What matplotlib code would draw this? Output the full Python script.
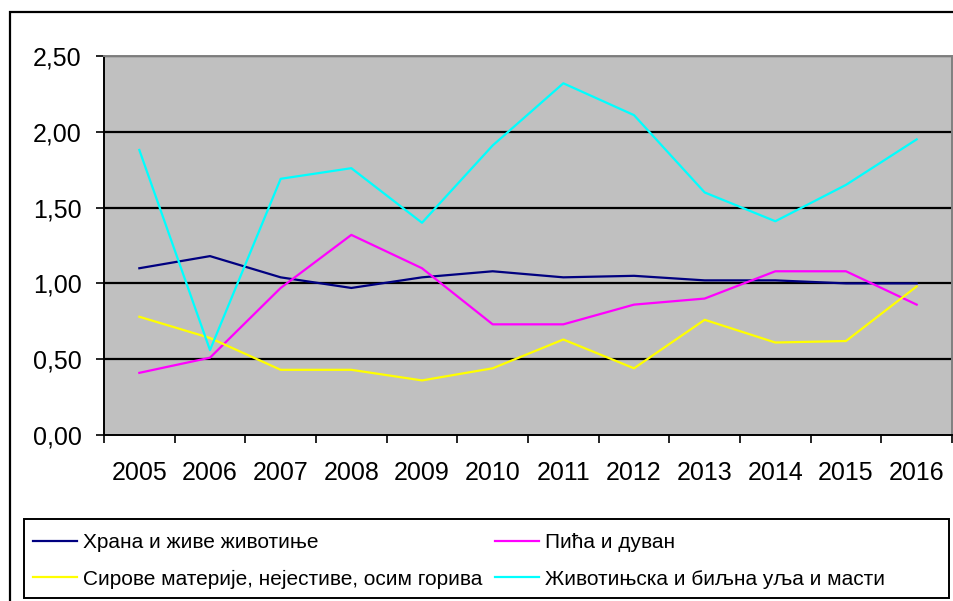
import matplotlib
matplotlib.use("Agg")
import matplotlib.pyplot as plt
from matplotlib.patches import Rectangle

years = ["2005", "2006", "2007", "2008", "2009", "2010", "2011", "2012", "2013", "2014", "2015", "2016"]
food = [1.10, 1.18, 1.04, 0.97, 1.04, 1.08, 1.04, 1.05, 1.02, 1.02, 1.00, 1.00]
drinks = [0.41, 0.51, 0.97, 1.32, 1.10, 0.73, 0.73, 0.86, 0.90, 1.08, 1.08, 0.86]
raw = [0.78, 0.64, 0.43, 0.43, 0.36, 0.44, 0.63, 0.44, 0.76, 0.61, 0.62, 0.98]
oils = [1.88, 0.56, 1.69, 1.76, 1.40, 1.91, 2.32, 2.11, 1.60, 1.41, 1.65, 1.95]
series_names = ["Храна и живе животиње", "Пића и дуван",
                "Сирове материје, нејестиве, осим горива", "Животињска и биљна уља и масти"]
series_vals = [food, drinks, raw, oils]
colors = ["#000080", "#FF00FF", "#FFFF00", "#00FFFF"]
yticks = [0.0, 0.5, 1.0, 1.5, 2.0, 2.5]

plt.rcParams['font.family'] = ['Liberation Sans', 'DejaVu Sans']

W, H = 954, 601
fig = plt.figure(figsize=(W / 100, H / 100), dpi=100)
L, R, T, B = 104, 952, 56, 435
ax = fig.add_axes([L / W, 1 - B / H, (R - L) / W, (B - T) / H])
ax.set_facecolor("#C0C0C0")

x = list(range(len(years)))
for ln in yticks[1:]:
    ax.axhline(ln, color="black", lw=1.6, zorder=1)
handles = []
for name, vals, c in zip(series_names, series_vals, colors):
    h, = ax.plot(x, vals, color=c, lw=1.6, zorder=3, label=name)
    handles.append(h)

ax.set_xlim(-0.5, len(years) - 0.5)
ax.set_ylim(0, 2.5)
ax.set_yticks(yticks)
ax.set_yticklabels([f"{v:.2f}".replace(".", ",") for v in yticks], fontsize=18)
ax.tick_params(axis='y', direction='out', length=6, width=1.2, pad=10, colors='black')
ax.set_xticks(x)
ax.set_xticklabels(years, fontsize=18)
ax.set_xticks([i - 0.5 for i in range(len(years) + 1)], minor=True)
ax.tick_params(axis='x', which='major', length=0, pad=19)
ax.tick_params(axis='x', which='minor', direction='out', length=5.5, width=1.2)

for s in ['left', 'bottom']:
    ax.spines[s].set_color('black')
    ax.spines[s].set_linewidth(1.4)
for s in ['top', 'right']:
    ax.spines[s].set_color('#808080')
    ax.spines[s].set_linewidth(1.4)

# outer border
fig.patches.append(Rectangle((10 / W, -0.1), 1.2, 1 - 12 / H + 0.1, transform=fig.transFigure,
                             fill=False, edgecolor='black', lw=1.6))
# legend frame
lx0, lx1, ly0, ly1 = 24, 949, 519, 598
fig.patches.append(Rectangle((lx0 / W, 1 - ly1 / H), (lx1 - lx0) / W, (ly1 - ly0) / H,
                             transform=fig.transFigure, fill=False, edgecolor='black', lw=1.4))

leg_kw = dict(loc='upper left', ncol=1, frameon=False, fontsize=15,
              handlelength=2.1, handletextpad=0.29, labelspacing=0.85,
              borderpad=0, borderaxespad=0)
fig.legend([handles[0], handles[2]], [series_names[0], series_names[2]],
           bbox_to_anchor=(33 / W, 1 - 533 / H), **leg_kw)
fig.legend([handles[1], handles[3]], [series_names[1], series_names[3]],
           bbox_to_anchor=(495 / W, 1 - 533 / H), **leg_kw)

fig.savefig("out.png", dpi=100)
